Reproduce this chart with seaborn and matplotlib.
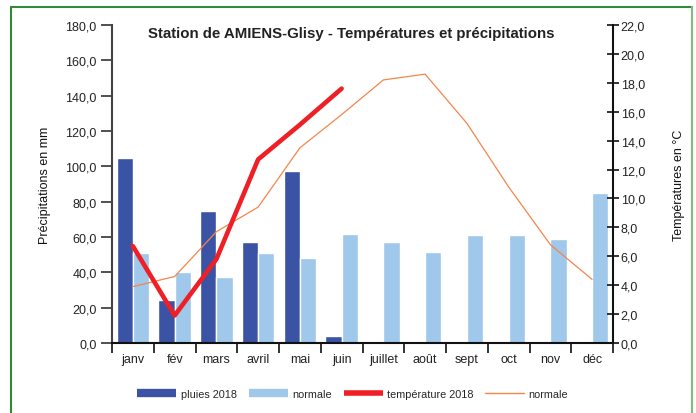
import numpy as np
import pandas as pd
import matplotlib.pyplot as plt
import seaborn as sns
from matplotlib.lines import Line2D
from matplotlib.ticker import FuncFormatter, MultipleLocator

# ---------------------------------------------------------------------------
# Data
# ---------------------------------------------------------------------------
MOIS = ['janv', 'fév', 'mars', 'avril', 'mai', 'juin',
        'juillet', 'août', 'sept', 'oct', 'nov', 'déc']

pluies_2018 = [104.5, 24.5, 74.5, 57.0, 97.5, 3.8,
               np.nan, np.nan, np.nan, np.nan, np.nan, np.nan]
pluies_normale = [51.0, 40.0, 37.2, 51.0, 48.1, 61.7,
                  57.0, 51.7, 61.1, 61.1, 58.9, 84.7]

temp_2018 = [6.7, 1.9, 5.8, 12.7, 15.1, 17.6]
temp_normale = [3.9, 4.6, 7.7, 9.4, 13.5, 15.8,
                18.2, 18.6, 15.2, 10.8, 6.8, 4.4]

DARK_BLUE = '#3a53a4'
LIGHT_BLUE = '#9fc8ea'
RED = '#ee2026'
ORANGE = '#f5854a'

df = pd.DataFrame({
    'mois': MOIS * 2,
    'pluie': pluies_2018 + pluies_normale,
    'serie': ['pluies 2018'] * 12 + ['normale'] * 12,
})

# ---------------------------------------------------------------------------
# Figure
# ---------------------------------------------------------------------------
sns.set_style('white')
plt.rcParams['font.family'] = ['Liberation Sans', 'DejaVu Sans']

fig = plt.figure(figsize=(6.96, 4.14), dpi=100)
ax = fig.add_axes([112 / 696, 1 - 344 / 414, (613 - 112) / 696, (344 - 26) / 414])

sns.barplot(data=df, x='mois', y='pluie', hue='serie', order=MOIS,
            palette=[DARK_BLUE, LIGHT_BLUE], width=0.78, dodge=True,
            ax=ax, legend=False, saturation=1)

ax.set_xlim(-0.5, 11.5)
ax.set_ylim(0, 180)
ax.yaxis.set_major_locator(MultipleLocator(20))
comma = FuncFormatter(lambda v, p: f'{v:.1f}'.replace('.', ','))
ax.yaxis.set_major_formatter(comma)
ax.set_xlabel('')
ax.set_ylabel('Précipitations en mm', fontsize=9, labelpad=10, color='#111111')

# month ticks: labels centred, tick marks between months
ax.tick_params(axis='x', which='major', length=0, pad=7, labelsize=9, labelcolor='#222222')
ax.set_xticks(np.arange(-0.5, 12, 1), minor=True)
ax.tick_params(axis='x', which='minor', length=7, width=1.2, color='#111111', direction='out', bottom=True)
ax.tick_params(axis='y', length=8, width=1.2, color='#333333', direction='out', left=True,
               labelsize=9, labelcolor='#222222', pad=3)

for side in ['top', 'right']:
    ax.spines[side].set_visible(False)
ax.spines['left'].set_color('#444444')
ax.spines['left'].set_linewidth(1.5)
ax.spines['bottom'].set_color('#111111')
ax.spines['bottom'].set_linewidth(1.5)

# temperatures on right axis
ax2 = ax.twinx()
sns.lineplot(x=np.arange(len(temp_normale)), y=temp_normale, color=ORANGE, lw=0.9, ax=ax2)
sns.lineplot(x=np.arange(len(temp_2018)), y=temp_2018, color=RED, lw=3.3, ax=ax2)
ax2.set_xlim(-0.5, 11.5)
ax2.set_ylim(0, 22)
ax2.yaxis.set_major_locator(MultipleLocator(2))
ax2.yaxis.set_major_formatter(comma)
ax2.set_ylabel('Températures en °C', fontsize=9, labelpad=20, color='#111111', rotation=90)
ax2.tick_params(axis='y', length=9, width=1.2, color='#111111', direction='inout', right=True,
                labelsize=9, labelcolor='#222222', pad=1)
for side in ['top', 'left', 'bottom']:
    ax2.spines[side].set_visible(False)
ax2.spines['right'].set_color('#111111')
ax2.spines['right'].set_linewidth(1.5)

fig.text(351 / 696, 1 - 34 / 414, 'Station de AMIENS-Glisy - Températures et précipitations',
         ha='center', va='center', fontsize=10.8, fontweight='bold', color='#222222')

# legend along the bottom
handles = [
    Line2D([], [], color=DARK_BLUE, lw=6, solid_capstyle='butt'),
    Line2D([], [], color=LIGHT_BLUE, lw=6, solid_capstyle='butt'),
    Line2D([], [], color=RED, lw=4, solid_capstyle='butt'),
    Line2D([], [], color=ORANGE, lw=1),
]
fig.legend(handles, ['pluies 2018', 'normale', 'température 2018', 'normale'],
           loc='center', bbox_to_anchor=(0.507, 1 - 395 / 414), ncol=4, frameon=False,
           fontsize=7.8, handlelength=3.6, handletextpad=0.4, columnspacing=1.1)

# green frame around the picture
frame_kw = dict(transform=fig.transFigure, clip_on=False)
fig.add_artist(Line2D([11 / 696, 11 / 696], [0, 1 - 8 / 414], color='#2f8a3a', lw=1.5, **frame_kw))
fig.add_artist(Line2D([11 / 696, 692 / 696], [1 - 8 / 414, 1 - 8 / 414], color='#2f8a3a', lw=1.5, **frame_kw))
fig.add_artist(Line2D([692 / 696, 692 / 696], [0, 1 - 8 / 414], color='#7dbd7d', lw=1.5, **frame_kw))

fig.savefig('out.png', dpi=100)
